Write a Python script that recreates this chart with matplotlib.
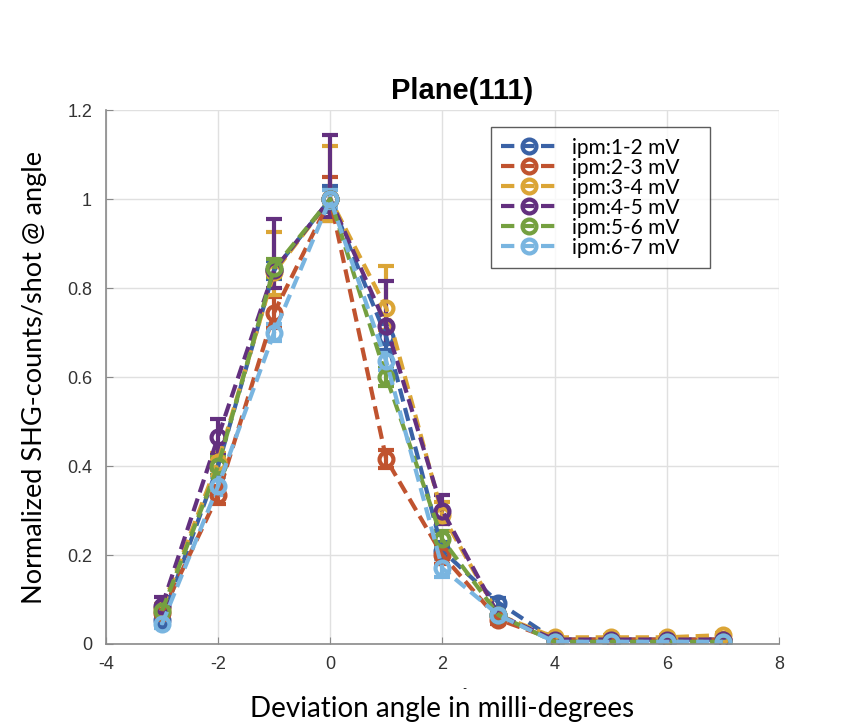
import matplotlib
matplotlib.use("Agg")
import matplotlib.pyplot as plt
from matplotlib.lines import Line2D
import numpy as np

plt.rcParams['font.family'] = ['Lato', 'DejaVu Sans']
plt.rcParams['axes.unicode_minus'] = False

# deviation angle (milli-degrees)
angle = [-3, -2, -1, 0, 1, 2, 3, 4, 5, 6, 7]

labels = ['ipm:1-2 mV', 'ipm:2-3 mV', 'ipm:3-4 mV',
          'ipm:4-5 mV', 'ipm:5-6 mV', 'ipm:6-7 mV']

ipm_1_2 = [0.055, 0.40, 0.84, 1.0, 0.69, 0.21, 0.093, 0.010, 0.010, 0.010, 0.010]
ipm_2_3 = [0.070, 0.335, 0.745, 1.0, 0.415, 0.20, 0.055, 0.010, 0.010, 0.010, 0.010]
ipm_3_4 = [0.080, 0.41, 0.835, 1.0, 0.755, 0.29, 0.065, 0.015, 0.015, 0.015, 0.020]
ipm_4_5 = [0.085, 0.465, 0.84, 1.0, 0.715, 0.30, 0.065, 0.010, 0.010, 0.010, 0.010]
ipm_5_6 = [0.075, 0.40, 0.845, 1.0, 0.60, 0.235, 0.065, 0.005, 0.005, 0.005, 0.005]
ipm_6_7 = [0.045, 0.355, 0.70, 1.0, 0.635, 0.17, 0.065, 0.005, 0.005, 0.005, 0.005]

# upper / lower error bars
err_up_1_2 = [0.01, 0.02, 0.02, 0.03, 0.03, 0.02, 0.01, 0.0, 0.0, 0.0, 0.0]
err_lo_1_2 = [0.01, 0.02, 0.02, 0.03, 0.03, 0.02, 0.01, 0.0, 0.0, 0.0, 0.0]
err_up_2_3 = [0.01, 0.02, 0.035, 0.05, 0.02, 0.02, 0.01, 0.0, 0.0, 0.0, 0.0]
err_lo_2_3 = [0.01, 0.02, 0.035, 0.05, 0.02, 0.02, 0.01, 0.0, 0.0, 0.0, 0.0]
err_up_3_4 = [0.01, 0.02, 0.09, 0.12, 0.095, 0.03, 0.01, 0.005, 0.005, 0.005, 0.005]
err_lo_3_4 = [0.01, 0.02, 0.05, 0.05, 0.05, 0.02, 0.01, 0.005, 0.005, 0.005, 0.005]
err_up_4_5 = [0.02, 0.04, 0.115, 0.145, 0.10, 0.035, 0.01, 0.0, 0.0, 0.0, 0.0]
err_lo_4_5 = [0.02, 0.04, 0.04, 0.04, 0.04, 0.03, 0.01, 0.0, 0.0, 0.0, 0.0]
err_up_5_6 = [0.01, 0.02, 0.02, 0.02, 0.02, 0.02, 0.01, 0.0, 0.0, 0.0, 0.0]
err_lo_5_6 = [0.01, 0.02, 0.02, 0.02, 0.02, 0.02, 0.01, 0.0, 0.0, 0.0, 0.0]
err_up_6_7 = [0.01, 0.02, 0.02, 0.02, 0.02, 0.02, 0.01, 0.0, 0.0, 0.0, 0.0]
err_lo_6_7 = [0.01, 0.02, 0.02, 0.02, 0.02, 0.02, 0.01, 0.0, 0.0, 0.0, 0.0]

series = [ipm_1_2, ipm_2_3, ipm_3_4, ipm_4_5, ipm_5_6, ipm_6_7]
err_up = [err_up_1_2, err_up_2_3, err_up_3_4, err_up_4_5, err_up_5_6, err_up_6_7]
err_lo = [err_lo_1_2, err_lo_2_3, err_lo_3_4, err_lo_4_5, err_lo_5_6, err_lo_6_7]
colors = ['#3a62a6', '#c0532f', '#dba536', '#63307f', '#75a040', '#79b5e0']

dash = (0, (3.2, 1.6))

fig = plt.figure(figsize=(8.54, 7.24), dpi=100)
ax = fig.add_axes([0.124, 0.1105, 0.788, 0.7375])

handles = []
for y, lo, up, c, lab in zip(series, err_lo, err_up, colors, labels):
    ax.errorbar(angle, y, yerr=[lo, up], color=c, ecolor=c, elinewidth=3,
                capsize=6, capthick=3, linestyle=dash, linewidth=3,
                marker='o', markersize=10, markeredgewidth=3,
                markerfacecolor='none')
    handles.append(Line2D([], [], color=c, linestyle=dash, linewidth=3,
                          marker='o', markersize=10, markeredgewidth=3,
                          markerfacecolor='none', label=lab))

ax.set_xlim(-4, 8)
ax.set_ylim(0, 1.2)
ax.set_xticks(np.arange(-4, 9, 2))
ax.set_yticks(np.arange(0, 1.21, 0.2))
ax.set_yticklabels(['0', '0.2', '0.4', '0.6', '0.8', '1', '1.2'])
ax.grid(True, color='#e0e0e0', linewidth=1)
ax.set_axisbelow(True)
ax.tick_params(direction='in', labelsize=13, length=5, colors='#8a8a8a',
               labelcolor='#333333')
ax.tick_params(axis='x', pad=9)
ax.tick_params(axis='y', pad=10)
for lbl in ax.get_xticklabels() + ax.get_yticklabels():
    lbl.set_family(['Liberation Sans', 'DejaVu Sans'])
for s in ['top', 'right']:
    ax.spines[s].set_visible(False)
for s in ['left', 'bottom']:
    ax.spines[s].set_color('#8a8a8a')
    ax.spines[s].set_linewidth(1.2)

ax.set_title('Plane(111)', fontsize=21, fontweight='bold', x=0.53,
             family=['Liberation Sans', 'DejaVu Sans'], pad=8)
ax.set_ylabel('Normalized SHG-counts/shot @ angle', fontsize=19.5, labelpad=14)
ax.set_xlabel('Deviation angle in milli-degrees', fontsize=20, labelpad=16)
fig.text(0.544, 0.049, '-', fontsize=8, ha='center', va='center')

leg = ax.legend(handles=handles, loc='upper left', mode='expand',
                bbox_to_anchor=(0.572, 0.5, 0.325, 0.468), fontsize=15,
                frameon=True, fancybox=False, handlelength=2.7,
                labelspacing=0.0, borderpad=0.5, handletextpad=0.68,
                borderaxespad=0)
leg.get_frame().set_edgecolor('#333333')
leg.get_frame().set_linewidth(1)

fig.savefig('out.png', dpi=100)
